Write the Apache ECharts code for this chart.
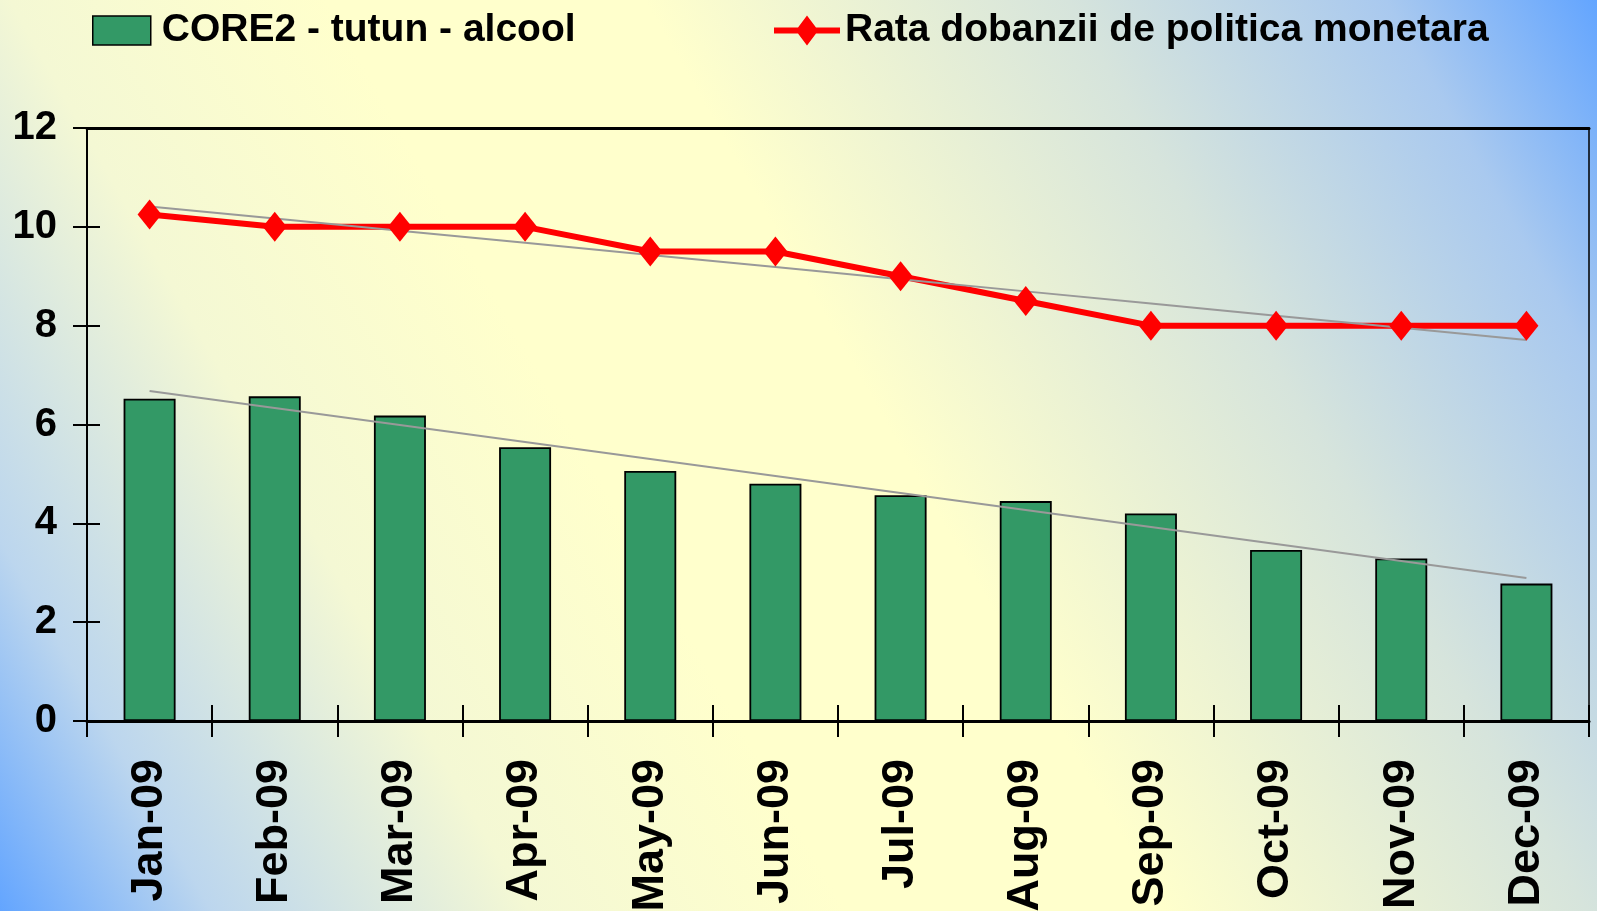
<!DOCTYPE html>
<html>
<head>
<meta charset="utf-8">
<script src="https://cdn.jsdelivr.net/npm/echarts@6/dist/echarts.min.js"></script>
<style>
  * { padding: 0; margin: 0; }
  #chart { width: 1597px; height: 911px; }
</style>
</head>
<body>
<div id="chart"></div>
<script>
var months = ["Jan-09", "Feb-09", "Mar-09", "Apr-09", "May-09", "Jun-09",
  "Jul-09", "Aug-09", "Sep-09", "Oct-09", "Nov-09", "Dec-09"];
var core2 = [6.52, 6.57, 6.18, 5.54, 5.06, 4.80, 4.57, 4.45, 4.20, 3.46, 3.29, 2.78];
var policyRate = [10.25, 10, 10, 10, 9.5, 9.5, 9, 8.5, 8, 8, 8, 8];
var yTicks = { min: 0, max: 12, interval: 2 };

var nameCore = "CORE2 - tutun - alcool";
var nameRate = "Rata dobanzii de politica monetara";

// linear trend (least squares) like the excel trendline
function trend(arr) {
  var n = arr.length, sx = 0, sy = 0, sxy = 0, sxx = 0;
  for (var i = 0; i < n; i++) {
    sx += i; sy += arr[i]; sxy += i * arr[i]; sxx += i * i;
  }
  var b = (n * sxy - sx * sy) / (n * sxx - sx * sx);
  var a = (sy - b * sx) / n;
  return arr.map(function (v, i) { return +(a + b * i).toFixed(3); });
}

var font = "'Liberation Sans', Arial, sans-serif";
var chart = echarts.init(document.getElementById("chart"));

chart.setOption({
  animation: false,
  backgroundColor: {
    type: "linear", x: 0, y: 1, x2: 1, y2: 0,
    colorStops: [
      { offset: 0, color: "#63a5ff" },
      { offset: 0.1, color: "#bcd6ee" },
      { offset: 0.25, color: "#f4f8d4" },
      { offset: 0.4, color: "#ffffcc" },
      { offset: 0.55, color: "#ffffcc" },
      { offset: 0.75, color: "#d6e4dc" },
      { offset: 0.9, color: "#a9c9ef" },
      { offset: 1, color: "#63a5ff" }
    ]
  },
  grid: [
    {
      left: 87, right: 8, top: 128, bottom: 190,
      show: true, borderColor: "#000", borderWidth: 1.5,
      containLabel: false, outerBoundsMode: "none"
    },
    {
      // thin helper grid next to the y axis: its right axis draws the inner half of the ticks
      left: 87, width: 13, top: 128, bottom: 190,
      containLabel: false, outerBoundsMode: "none"
    }
  ],
  legend: [
    {
      data: [nameCore],
      left: 87, top: 6,
      icon: "rect",
      itemWidth: 58, itemHeight: 29,
      itemStyle: { borderColor: "#000", borderWidth: 1.5 },
      textStyle: { fontSize: 39, fontWeight: "bold", fontFamily: font, color: "#000", padding: [0, 0, 0, 6] }
    },
    {
      data: [nameRate],
      left: 769, top: 6,
      icon: "path://M0,12 L24,12 L33,0 L42,12 L66,12 L66,18 L42,18 L33,30 L24,18 L0,18 Z",
      itemWidth: 66, itemHeight: 32,
      itemStyle: { color: "#ff0000", borderWidth: 0 },
      textStyle: { fontSize: 39, fontWeight: "bold", fontFamily: font, color: "#000" }
    }
  ],
  xAxis: [
    {
      type: "category",
      data: months,
      position: "bottom",
      axisLine: { lineStyle: { color: "#000", width: 3 } },
      axisTick: { show: true, inside: false, length: 16, lineStyle: { color: "#000", width: 2 } },
      axisLabel: {
        interval: 0, rotate: 90, margin: 38,
        fontSize: 45, fontWeight: "bold", fontFamily: font, color: "#000"
      },
      splitLine: { show: false }
    },
    {
      type: "category",
      data: months,
      position: "bottom",
      axisLine: { show: false },
      axisTick: { show: true, inside: true, length: 16, lineStyle: { color: "#000", width: 2 } },
      axisLabel: { show: false },
      splitLine: { show: false }
    },
    {
      type: "category",
      data: months,
      position: "top",
      axisLine: { show: true, lineStyle: { color: "#000", width: 3 } },
      axisTick: { show: false },
      axisLabel: { show: false },
      splitLine: { show: false }
    },
    {
      type: "category",
      gridIndex: 1,
      data: months,
      axisLine: { show: false },
      axisTick: { show: false },
      axisLabel: { show: false },
      splitLine: { show: false }
    }
  ],
  yAxis: [
    {
      type: "value",
      position: "left",
      min: yTicks.min, max: yTicks.max, interval: yTicks.interval,
      axisLine: { show: true, lineStyle: { color: "#000", width: 2 } },
      axisTick: { show: true, inside: false, length: 14, lineStyle: { color: "#000", width: 2 } },
      axisLabel: { margin: 30, fontSize: 40, fontWeight: "bold", fontFamily: font, color: "#000" },
      splitLine: { show: false }
    },
    {
      type: "value",
      gridIndex: 1,
      position: "right",
      min: yTicks.min, max: yTicks.max, interval: yTicks.interval,
      axisLine: { show: false },
      axisTick: { show: true, inside: true, length: 13, lineStyle: { color: "#000", width: 2 } },
      axisLabel: { show: false },
      splitLine: { show: false }
    }
  ],
  series: [
    {
      name: nameCore,
      type: "bar",
      data: core2,
      barWidth: 52,
      itemStyle: { color: "#339966", borderColor: "#000", borderWidth: 1.8 }
    },
    {
      name: nameRate,
      type: "line",
      data: policyRate,
      symbol: "diamond",
      symbolSize: [24, 30],
      color: "#ff0000",
      lineStyle: { width: 6, color: "#ff0000" },
      itemStyle: { color: "#ff0000" }
    },
    {
      name: "trend core",
      type: "line",
      data: trend(core2),
      showSymbol: false,
      symbol: "none",
      lineStyle: { width: 2, color: "#999" },
      silent: true
    },
    {
      name: "trend rate",
      type: "line",
      data: trend(policyRate),
      showSymbol: false,
      symbol: "none",
      lineStyle: { width: 2, color: "#999" },
      silent: true
    }
  ]
});
</script>
</body>
</html>
